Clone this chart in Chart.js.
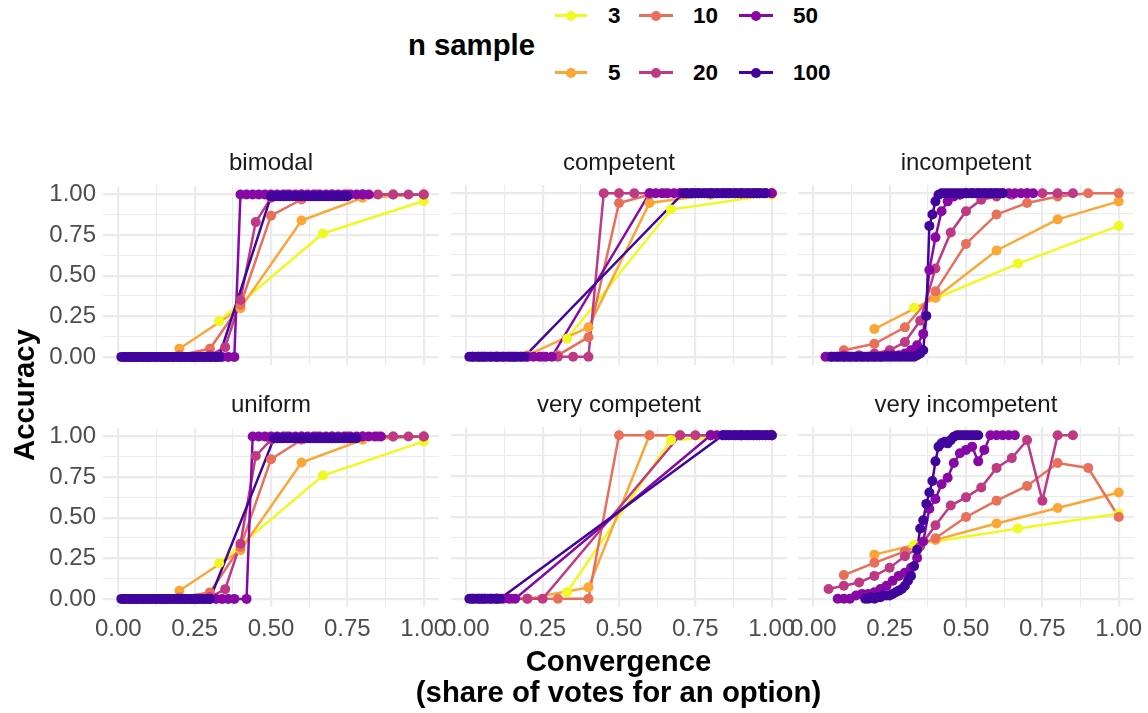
<!DOCTYPE html>
<html>
<head>
<meta charset="utf-8">
<script src="https://cdn.jsdelivr.net/npm/chart.js@4.4.1/dist/chart.umd.min.js"></script>
<style>
  body { margin: 0; width: 1148px; height: 713px; overflow: hidden; background: #fff;
         font-family: "Liberation Sans", Arial, sans-serif; position: relative; }
  canvas { position: absolute; }
  .txt { position: absolute; white-space: nowrap; }
  .strip { width: 336px; text-align: center; font-size: 24px; line-height: 24px; color: #1a1a1a; }
  .title { font-weight: bold; font-size: 29.3px; line-height: 30px; color: #000; }
  .lab { font-weight: bold; font-size: 22.5px; line-height: 24px; color: #000; }
  .keyline { position: absolute; height: 2.5px; width: 33px; }
  .keydot { position: absolute; width: 10px; height: 10px; border-radius: 50%; }
</style>
</head>
<body>
<script>
// n sample groups and their colours (plasma, reversed)
const nSample = ['3', '5', '10', '20', '50', '100'];
const seriesColors = ['#F0F921', '#FCA636', '#E8705B', '#BF3984', '#8808A6', '#41049D'];
const panelNames = ['bimodal', 'competent', 'incompetent', 'uniform', 'very competent', 'very incompetent'];
const majorTicks = [0, 0.25, 0.5, 0.75, 1];
const tickLabels = ['0.00', '0.25', '0.50', '0.75', '1.00'];
const minorTicks = [0.125, 0.375, 0.625, 0.875];

// each panel: one list of [convergence, accuracy] per n sample (3, 5, 10, 20, 50, 100)
const bimodal = [
  [[0.33,0.22],[0.67,0.76],[1,0.96]],
  [[0.2,0.05],[0.4,0.30],[0.6,0.84],[0.8,0.98],[1,1]],
  [[0.1,0],[0.2,0.01],[0.3,0.05],[0.4,0.32],[0.5,0.87],[0.6,0.97],[0.7,0.99],[0.8,1],[0.9,1],[1,1]],
  [[0.05,0],[0.1,0],[0.15,0],[0.2,0],[0.25,0],[0.3,0.01],[0.35,0.06],[0.4,0.35],[0.45,0.83],[0.5,0.98],
   [0.55,1],[0.6,1],[0.65,1],[0.7,1],[0.75,1],[0.8,1],[0.85,1],[0.9,1],[0.95,1],[1,1]],
  [[0.02,0],[0.04,0],[0.06,0],[0.08,0],[0.10,0],[0.12,0],[0.14,0],[0.16,0],[0.18,0],[0.20,0],
   [0.22,0],[0.24,0],[0.26,0],[0.28,0],[0.30,0],[0.32,0],[0.34,0],[0.36,0],[0.38,0],[0.40,1],
   [0.42,1],[0.44,1],[0.46,1],[0.48,1],[0.50,1],[0.52,1],[0.54,1],[0.56,1],[0.58,1],[0.60,1],
   [0.62,1],[0.64,1],[0.66,1],[0.68,1],[0.70,1],[0.72,1],[0.74,1],[0.76,1],[0.78,1],[0.80,1],[0.82,1]],
  [[0.01,0],[0.02,0],[0.03,0],[0.04,0],[0.05,0],[0.06,0],[0.07,0],[0.08,0],[0.09,0],[0.10,0],
   [0.11,0],[0.12,0],[0.13,0],[0.14,0],[0.15,0],[0.16,0],[0.17,0],[0.18,0],[0.19,0],[0.20,0],
   [0.21,0],[0.22,0],[0.23,0],[0.24,0],[0.25,0],[0.26,0],[0.27,0],[0.28,0],[0.29,0],[0.30,0],
   [0.31,0],[0.32,0],[0.33,0],[0.50,0.99],[0.51,0.99],[0.52,0.99],[0.53,0.99],[0.54,0.99],[0.55,0.99],
   [0.56,0.99],[0.57,0.99],[0.58,0.99],[0.59,0.99],[0.60,0.99],[0.61,0.99],[0.62,0.99],[0.63,0.99],
   [0.64,0.99],[0.65,0.99],[0.66,0.99],[0.67,0.99],[0.68,0.99],[0.69,0.99],[0.70,0.99],[0.71,0.99],
   [0.72,0.99],[0.73,0.99],[0.74,0.99],[0.75,0.99]]
];

const competent = [
  [[0.33,0.11],[0.67,0.90],[1,0.99]],
  [[0.2,0.01],[0.4,0.18],[0.6,0.94],[0.8,0.99],[1,1]],
  [[0.1,0],[0.2,0],[0.3,0.01],[0.4,0.12],[0.5,0.94],[0.6,0.99],[0.7,1],[0.8,1],[0.9,1],[1,1]],
  [[0.05,0],[0.1,0],[0.15,0],[0.2,0],[0.25,0],[0.3,0],[0.35,0],[0.4,0],[0.45,1],[0.5,1],
   [0.55,1],[0.6,1],[0.65,1],[0.7,1],[0.75,1],[0.8,1],[0.85,1],[0.9,1],[0.95,1],[1,1]],
  [[0.02,0],[0.04,0],[0.06,0],[0.08,0],[0.10,0],[0.12,0],[0.14,0],[0.16,0],[0.18,0],[0.20,0],
   [0.22,0],[0.24,0],[0.26,0],[0.28,0],[0.60,1],[0.62,1],[0.64,1],[0.66,1],[0.68,1],[0.70,1],
   [0.72,1],[0.74,1],[0.76,1],[0.78,1],[0.80,1],[0.82,1],[0.84,1],[0.86,1],[0.88,1],[0.90,1],
   [0.92,1],[0.94,1],[0.96,1],[0.98,1],[1,1]],
  [[0.01,0],[0.02,0],[0.03,0],[0.04,0],[0.05,0],[0.06,0],[0.07,0],[0.08,0],[0.09,0],[0.10,0],
   [0.11,0],[0.12,0],[0.13,0],[0.14,0],[0.15,0],[0.16,0],[0.17,0],[0.18,0],[0.19,0],[0.71,1],
   [0.72,1],[0.73,1],[0.74,1],[0.75,1],[0.76,1],[0.77,1],[0.78,1],[0.79,1],[0.80,1],[0.81,1],
   [0.82,1],[0.83,1],[0.84,1],[0.85,1],[0.86,1],[0.87,1],[0.88,1],[0.89,1],[0.90,1],[0.91,1],
   [0.92,1],[0.93,1],[0.94,1],[0.95,1],[0.96,1],[0.97,1],[0.98,1]]
];

const incompetent = [
  [[0.33,0.30],[0.67,0.57],[1,0.80]],
  [[0.2,0.17],[0.4,0.36],[0.6,0.65],[0.8,0.84],[1,0.95]],
  [[0.1,0.04],[0.2,0.08],[0.3,0.18],[0.4,0.40],[0.5,0.69],[0.6,0.87],[0.7,0.94],[0.8,0.98],[0.9,1],[1,1]],
  [[0.05,0],[0.1,0.01],[0.15,0.01],[0.2,0.02],[0.25,0.04],[0.3,0.09],[0.35,0.22],[0.4,0.54],[0.45,0.76],
   [0.5,0.89],[0.55,0.96],[0.6,0.98],[0.65,0.99],[0.7,1],[0.75,1],[0.8,1],[0.85,1]],
  [[0.04,0],[0.06,0],[0.08,0],[0.10,0],[0.12,0],[0.14,0],[0.16,0],[0.18,0],[0.20,0],[0.22,0],
   [0.24,0.01],[0.26,0.01],[0.28,0.01],[0.30,0.02],[0.32,0.04],[0.34,0.07],[0.36,0.14],[0.38,0.53],
   [0.40,0.73],[0.42,0.89],[0.44,0.95],[0.46,0.98],[0.48,0.99],[0.50,1],[0.52,1],[0.54,1],[0.56,1],
   [0.58,1],[0.60,1],[0.62,1],[0.64,1],[0.66,1],[0.68,1],[0.70,1],[0.72,1]],
  [[0.06,0],[0.07,0],[0.08,0],[0.09,0],[0.10,0],[0.11,0],[0.12,0],[0.13,0],[0.14,0],[0.15,0],
   [0.16,0],[0.17,0],[0.18,0],[0.19,0],[0.20,0],[0.21,0],[0.22,0],[0.23,0],[0.24,0],[0.25,0],
   [0.26,0],[0.27,0],[0.28,0],[0.29,0],[0.30,0],[0.31,0],[0.32,0],[0.33,0],[0.34,0.01],[0.35,0.02],
   [0.36,0.04],[0.37,0.25],[0.38,0.80],[0.39,0.87],[0.40,0.95],[0.41,0.99],[0.42,1],[0.43,1],[0.44,1],
   [0.45,1],[0.46,1],[0.47,1],[0.48,1],[0.49,1],[0.50,1],[0.51,1],[0.52,1],[0.53,1],[0.54,1],[0.55,1],
   [0.56,1],[0.57,1],[0.58,1],[0.59,1],[0.60,1],[0.61,1],[0.62,1]]
];

const uniform = [
  [[0.33,0.22],[0.67,0.76],[1,0.97]],
  [[0.2,0.05],[0.4,0.30],[0.6,0.84],[0.8,0.98],[1,1]],
  [[0.1,0],[0.2,0.01],[0.3,0.04],[0.4,0.32],[0.5,0.86],[0.6,0.98],[0.7,0.99],[0.8,1],[0.9,1],[1,1]],
  [[0.05,0],[0.1,0],[0.15,0],[0.2,0],[0.25,0],[0.3,0.01],[0.35,0.06],[0.4,0.34],[0.45,0.88],[0.5,0.98],
   [0.55,1],[0.6,1],[0.65,1],[0.7,1],[0.75,1],[0.8,1],[0.85,1],[0.9,1],[0.95,1],[1,1]],
  [[0.02,0],[0.04,0],[0.06,0],[0.08,0],[0.10,0],[0.12,0],[0.14,0],[0.16,0],[0.18,0],[0.20,0],
   [0.22,0],[0.24,0],[0.26,0],[0.28,0],[0.30,0],[0.32,0],[0.34,0],[0.36,0],[0.38,0],[0.42,0],
   [0.44,1],[0.46,1],[0.48,1],[0.50,1],[0.52,1],[0.54,1],[0.56,1],[0.58,1],[0.60,1],[0.62,1],
   [0.64,1],[0.66,1],[0.68,1],[0.70,1],[0.72,1],[0.74,1],[0.76,1],[0.78,1],[0.80,1],[0.82,1],
   [0.84,1],[0.86,1]],
  [[0.01,0],[0.02,0],[0.03,0],[0.04,0],[0.05,0],[0.06,0],[0.07,0],[0.08,0],[0.09,0],[0.10,0],
   [0.11,0],[0.12,0],[0.13,0],[0.14,0],[0.15,0],[0.16,0],[0.17,0],[0.18,0],[0.19,0],[0.20,0],
   [0.21,0],[0.22,0],[0.23,0],[0.24,0],[0.25,0],[0.26,0],[0.27,0],[0.28,0],[0.29,0],[0.30,0],
   [0.51,0.99],[0.52,0.99],[0.53,0.99],[0.54,0.99],[0.55,0.99],[0.56,0.99],[0.57,0.99],[0.58,0.99],
   [0.59,0.99],[0.60,0.99],[0.61,0.99],[0.62,0.99],[0.63,0.99],[0.64,0.99],[0.65,0.99],[0.66,0.99],
   [0.67,0.99],[0.68,0.99],[0.69,0.99],[0.70,0.99],[0.71,0.99],[0.72,0.99],[0.73,0.99],[0.74,0.99],
   [0.75,0.99],[0.76,0.99],[0.77,0.99],[0.78,0.99]]
];

const veryCompetent = [
  [[0.33,0.04],[0.67,0.97],[1,1]],
  [[0.2,0],[0.4,0.07],[0.6,1],[0.8,1],[1,1]],
  [[0.1,0],[0.2,0],[0.3,0],[0.4,0],[0.5,1],[0.6,1],[0.7,1],[0.8,1],[0.9,1],[1,1]],
  [[0.05,0],[0.1,0],[0.15,0],[0.2,0],[0.25,0],[0.7,1],[0.75,1],[0.8,1],[0.85,1],[0.9,1],[0.95,1],[1,1]],
  [[0.02,0],[0.04,0],[0.06,0],[0.08,0],[0.10,0],[0.12,0],[0.14,0],[0.16,0],[0.80,1],[0.82,1],
   [0.84,1],[0.86,1],[0.88,1],[0.90,1],[0.92,1],[0.94,1],[0.96,1],[0.98,1],[1,1]],
  [[0.01,0],[0.02,0],[0.03,0],[0.04,0],[0.05,0],[0.06,0],[0.07,0],[0.08,0],[0.09,0],[0.10,0],
   [0.11,0],[0.84,1],[0.85,1],[0.86,1],[0.87,1],[0.88,1],[0.89,1],[0.90,1],[0.91,1],[0.92,1],
   [0.93,1],[0.94,1],[0.95,1],[0.96,1],[0.97,1],[0.98,1],[0.99,1],[1,1]]
];

const veryIncompetent = [
  [[0.33,0.33],[0.67,0.43],[1,0.52]],
  [[0.2,0.27],[0.4,0.36],[0.6,0.46],[0.8,0.555],[1,0.65]],
  [[0.1,0.145],[0.2,0.22],[0.3,0.29],[0.4,0.37],[0.5,0.50],[0.6,0.60],[0.7,0.69],[0.8,0.83],[0.9,0.80],[1,0.50]],
  [[0.05,0.06],[0.1,0.08],[0.15,0.10],[0.2,0.14],[0.25,0.19],[0.3,0.26],[0.35,0.32],[0.4,0.45],[0.45,0.57],
   [0.5,0.62],[0.55,0.68],[0.6,0.80],[0.65,0.86],[0.7,0.97],[0.75,0.60],[0.8,1],[0.85,1]],
  [[0.08,0],[0.10,0],[0.12,0],[0.14,0.02],[0.16,0.03],[0.18,0.03],[0.20,0.04],[0.22,0.06],[0.24,0.08],
   [0.26,0.11],[0.28,0.14],[0.30,0.16],[0.32,0.19],[0.34,0.25],[0.36,0.35],[0.38,0.55],[0.40,0.61],
   [0.42,0.70],[0.44,0.74],[0.46,0.83],[0.48,0.89],[0.50,0.91],[0.52,0.93],[0.54,0.84],[0.56,0.91],
   [0.58,1],[0.60,1],[0.62,1],[0.64,1],[0.66,1]],
  [[0.17,0],[0.18,0],[0.19,0.01],[0.20,0],[0.21,0.01],[0.22,0.01],[0.23,0.02],[0.24,0.02],[0.25,0.02],
   [0.26,0.03],[0.27,0.04],[0.28,0.05],[0.29,0.06],[0.30,0.08],[0.31,0.11],[0.32,0.14],[0.33,0.20],
   [0.34,0.30],[0.35,0.43],[0.36,0.48],[0.37,0.58],[0.38,0.65],[0.39,0.72],[0.40,0.84],[0.41,0.93],
   [0.42,0.95],[0.43,0.96],[0.44,0.95],[0.45,0.97],[0.46,0.99],[0.47,1],[0.48,1],[0.49,1],[0.50,1],
   [0.51,1],[0.52,1],[0.53,1],[0.54,1]]
];

const panelData = [bimodal, competent, incompetent, uniform, veryCompetent, veryIncompetent];

const colLeft = [103, 451, 798];
const rowTop = [185, 427];
const padTop = 20;
const tickFont = { family: 'Liberation Sans', size: 24 };

function addText(cls, text, left, top, extra) {
  const d = document.createElement('div');
  d.className = 'txt ' + cls;
  d.textContent = text;
  d.style.left = left + 'px';
  d.style.top = top + 'px';
  if (extra) Object.assign(d.style, extra);
  document.body.appendChild(d);
  return d;
}

function axis(showLabels, isX) {
  return {
    type: 'linear',
    min: -0.05,
    max: 1.05,
    afterBuildTicks: (s) => {
      s.ticks = majorTicks.concat(minorTicks).sort((a, b) => a - b).map((v) => ({ value: v }));
    },
    afterFit: (s) => {
      if (isX) s.height = 40; else s.width = 100;
    },
    border: { display: false },
    grid: {
      color: '#EBEBEB',
      drawTicks: false,
      lineWidth: (c) => (c.tick && majorTicks.includes(c.tick.value) ? 2.2 : 1.1),
    },
    ticks: {
      display: showLabels,
      autoSkip: false,
      maxRotation: 0,
      padding: isX ? 8 : 7,
      font: tickFont,
      color: '#4D4D4D',
      callback: (v) => {
        const i = majorTicks.indexOf(v);
        return i >= 0 ? tickLabels[i] : '';
      },
    },
  };
}

panelData.forEach((series, k) => {
  const col = k % 3;
  const row = Math.floor(k / 3);

  const canvas = document.createElement('canvas');
  canvas.width = 460;
  canvas.height = 180 + padTop + 40;
  canvas.style.width = '460px';
  canvas.style.height = canvas.height + 'px';
  canvas.style.left = (colLeft[col] - 100) + 'px';
  canvas.style.top = (rowTop[row] - padTop) + 'px';
  document.body.appendChild(canvas);

  addText('strip', panelNames[k], colLeft[col], rowTop[row] - 35);

  const datasets = [];
  series.forEach((pts, i) => {
    const d = pts.map(([x, y]) => ({ x, y }));
    // lines under every point, bigger n drawn on top
    datasets.push({
      label: nSample[i], data: d, showLine: true, borderColor: seriesColors[i],
      borderWidth: 2.5, pointRadius: 0, pointHoverRadius: 0, order: 20 - i,
    });
    datasets.push({
      label: nSample[i], data: d, showLine: false, backgroundColor: seriesColors[i],
      pointRadius: 5, pointBorderWidth: 0, pointHoverRadius: 5, order: 5 - i,
    });
  });

  new Chart(canvas, {
    type: 'scatter',
    data: { datasets },
    options: {
      responsive: false,
      animation: false,
      devicePixelRatio: 1,
      layout: { padding: { left: 0, top: padTop, right: 24, bottom: 0 } },
      plugins: { legend: { display: false }, tooltip: { enabled: false } },
      scales: {
        x: axis(row === 1, true),
        y: axis(col === 0, false),
      },
    },
  });
});

// axis titles
addText('title', 'Convergence', 0, 646, { width: '1237px', textAlign: 'center' });
addText('title', '(share of votes for an option)', 0, 677, { width: '1237px', textAlign: 'center' });
addText('title', 'Accuracy', 23.5 - 100, 395 - 15, {
  width: '200px', textAlign: 'center', transform: 'rotate(-90deg)',
});

// legend
addText('title', 'n sample', 408, 30);
const keyX = [555, 555, 639, 639, 739, 739];
const keyY = [15.7, 72.7, 15.7, 72.7, 15.7, 72.7];
const labX = [608, 608, 693, 693, 793, 793];
// legend order: 3, 5 | 10, 20 | 50, 100
nSample.forEach((n, i) => {
  const ln = document.createElement('div');
  ln.className = 'keyline';
  ln.style.background = seriesColors[i];
  ln.style.left = keyX[i] + 'px';
  ln.style.top = (keyY[i] - 1.25) + 'px';
  ln.style.width = (i < 2 ? 32 : 34) + 'px';
  document.body.appendChild(ln);
  const dot = document.createElement('div');
  dot.className = 'keydot';
  dot.style.background = seriesColors[i];
  dot.style.left = (keyX[i] + (i < 2 ? 16 : 17) - 5) + 'px';
  dot.style.top = (keyY[i] - 5) + 'px';
  document.body.appendChild(dot);
  addText('lab', n, labX[i], keyY[i] - 11.7);
});
</script>
</body>
</html>
